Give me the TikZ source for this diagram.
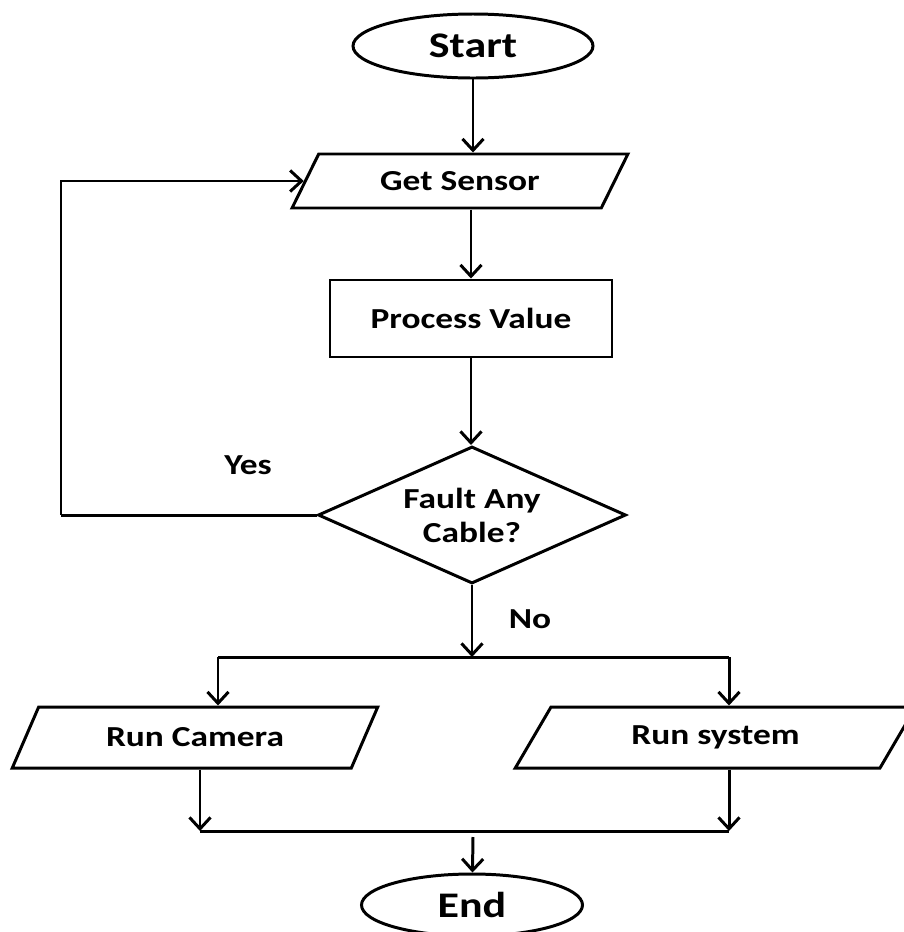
\documentclass[tikz,border=0pt]{standalone}
\usepackage{fontspec}
\setmainfont{Carlito}[FakeStretch=1.22]
\usepackage{tikz}
\usetikzlibrary{arrows.meta,positioning,shapes.geometric,calc}
\tikzset{
  >={Straight Barb[length=6.5pt,width=12pt]},
  every picture/.append style={font=\bfseries, line width=1.7pt},
  terminal/.style={ellipse,draw,inner sep=0pt,font=\fontsize{20.5}{24}\selectfont\bfseries},
  ioshape/.style={trapezium,draw,trapezium stretches=true,trapezium left angle=52,trapezium right angle=128,inner sep=0pt,font=\fontsize{16.5}{19}\selectfont\bfseries},
  procbox/.style={rectangle,draw,inner sep=0pt,font=\fontsize{16.5}{19}\selectfont\bfseries},
  decision/.style={diamond,draw,aspect=2.25,inner sep=0pt,align=center,font=\fontsize{16.5}{19.3}\selectfont\bfseries},
  flowarrow/.style={->},
  flowlabel/.style={font=\fontsize{16.5}{19}\selectfont\bfseries},
}
\begin{document}
\begin{tikzpicture}
  \useasboundingbox (0,0) rectangle (18.06,-18.64);
  % shapes
  \node[terminal, minimum width=4.8cm, minimum height=1.28cm] (start) at (9.46,-0.92) {Start};
  \node[ioshape, minimum width=6.72cm, minimum height=1.08cm] (sensor) at (9.20,-3.62) {Get Sensor};
  \node[procbox, minimum width=5.64cm, minimum height=1.54cm] (process) at (9.42,-6.37) {Process Value};
  \node[decision, minimum width=6.16cm, minimum height=2.74cm] (fault) at (9.44,-10.30) {Fault Any\\Cable?};
  \node[ioshape, minimum width=7.32cm, minimum height=1.22cm] (camera) at (3.90,-14.75) {Run Camera};
  \node[ioshape, minimum width=8.02cm, minimum height=1.22cm] (system) at (14.31,-14.75) {Run system};
  \node[terminal, minimum width=4.42cm, minimum height=1.24cm] (end) at (9.44,-18.10) {End};
  \node[flowlabel] (yes) at (4.96,-9.30) {Yes};
  \node[flowlabel] (no) at (10.60,-12.38) {No};
  % helper points
  \coordinate (loop) at (1.22,-10.18);
  \coordinate (splitL) at (4.36,-13.14);
  \coordinate (splitR) at (14.58,-13.14);
  \coordinate (mergeL) at (4.00,-16.62);
  \coordinate (mergeR) at (14.58,-16.62);
  \coordinate (join) at (9.46,-16.74);
  % connectors
  \draw[flowarrow] (start) -- (start |- sensor.north);
  \draw[flowarrow] (process |- sensor.south) -- (process);
  \draw[flowarrow] (process) -- (process.south |- fault.north);
  \draw[flowarrow] (fault.west -| loop) |- (sensor.west);
  \draw (fault.west) -- (fault.west -| loop);
  \draw[flowarrow] (fault) -- (fault.south |- splitL);
  \draw (splitL) -- (splitR);
  \draw[flowarrow] (splitL) -- (splitL |- camera.north);
  \draw[flowarrow] (splitR) -- (splitR |- system.north);
  \draw[flowarrow] (mergeL |- camera.south) -- (mergeL);
  \draw[flowarrow] (mergeR |- system.south) -- (mergeR);
  \draw (mergeL) -- (mergeR);
  \draw[flowarrow] (join) -- (end);
\end{tikzpicture}
\end{document}
